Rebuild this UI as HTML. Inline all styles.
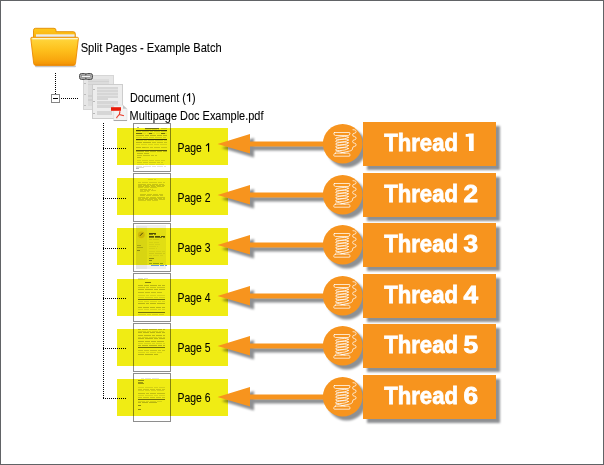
<!DOCTYPE html>
<html>
<head>
<meta charset="utf-8">
<style>
html,body{margin:0;padding:0;background:#fff;}
body{width:604px;height:465px;overflow:hidden;position:relative;}
svg{position:absolute;left:0;top:0;display:block;}
.t{font-family:"Liberation Sans",sans-serif;font-size:12px;fill:#000;stroke:#000;stroke-width:0.08px;}
.th{font-family:"Liberation Sans",sans-serif;font-weight:bold;font-size:24px;fill:#fff;}
</style>
</head>
<body>
<svg width="604" height="465" viewBox="0 0 604 465">
<defs>
  <linearGradient id="fg" x1="0" y1="0" x2="0" y2="1">
    <stop offset="0" stop-color="#ffe070"/>
    <stop offset="0.12" stop-color="#ffd236"/>
    <stop offset="0.45" stop-color="#fec01c"/>
    <stop offset="0.8" stop-color="#f9a70e"/>
    <stop offset="0.95" stop-color="#f39606"/>
    <stop offset="1" stop-color="#ea8200"/>
  </linearGradient>
  <linearGradient id="fb" x1="0" y1="0" x2="0" y2="1">
    <stop offset="0" stop-color="#ffc81a"/>
    <stop offset="1" stop-color="#f8ac10"/>
  </linearGradient>
  <filter id="bl" x="-20%" y="-100%" width="140%" height="300%"><feGaussianBlur stdDeviation="0.7"/></filter>
  <filter id="sh" x="-20%" y="-20%" width="150%" height="160%" color-interpolation-filters="sRGB">
    <feGaussianBlur in="SourceAlpha" stdDeviation="1.1" result="blur"/>
    <feOffset in="blur" dx="3.5" dy="3.7" result="off"/>
    <feFlood flood-color="#12161e" flood-opacity="0.48"/>
    <feComposite in2="off" operator="in"/>
    <feMerge><feMergeNode/><feMergeNode in="SourceGraphic"/></feMerge>
  </filter>
  <g id="spool" fill="none" stroke="#fff" stroke-width="0.75" stroke-linecap="round" stroke-linejoin="round">
    <path d="M334.6,132.5 H349 Q350.5,132.5 349.9,134 Q349.4,135.5 348.2,135.5 H335.6 Q334.3,135.5 333.9,134 Q333.4,132.5 334.6,132.5 Z"/>
    <path d="M335.6,153.1 H348.2 Q349.4,153.1 349.9,154.6 Q350.5,156.2 349,156.2 H334.6 Q333.4,156.2 333.9,154.6 Q334.3,153.1 335.6,153.1 Z"/>
    <ellipse cx="342" cy="137.9" rx="6.5" ry="1.3" transform="rotate(-6 342 137.9)"/>
    <ellipse cx="342" cy="140.7" rx="6.5" ry="1.3" transform="rotate(-6 342 140.7)"/>
    <ellipse cx="342" cy="143.5" rx="6.5" ry="1.3" transform="rotate(-6 342 143.5)"/>
    <ellipse cx="342" cy="146.3" rx="6.5" ry="1.3" transform="rotate(-6 342 146.3)"/>
    <ellipse cx="342" cy="149.1" rx="6.5" ry="1.3" transform="rotate(-6 342 149.1)"/>
    <path d="M336,151 L345,153"/>
    <path d="M353.0,129.7 C355.2,129.8 356.1,130.2 356.1,131.6 C356.1,134.2 352.6,132.3 352.6,134.9 C352.6,137.5 356.1,135.6 356.1,138.2 C356.1,140.8 352.6,138.9 352.6,141.5 C352.6,144.1 356.1,142.2 356.1,144.8 C356.1,147.4 352.6,145.5 352.6,148.1 C352.6,150 351.5,150.6 349.5,151.1 L341,152.8"/>
  </g>
</defs>
<rect x="0.5" y="0.5" width="603" height="464" fill="none" stroke="#616366" stroke-width="1"/>
<g>
  <rect x="35" y="65.2" width="41" height="2" rx="1" fill="#000" opacity="0.22" filter="url(#bl)"/>
  <path d="M35.5,28.3 h18.5 a2,2 0 0 1 2,2 v1.4 h17.3 a2,2 0 0 1 2,2 v5.8 h-41.8 v-9.2 a2,2 0 0 1 2,-2 z" fill="url(#fb)" stroke="#e28c00" stroke-width="0.9"/>
  <rect x="36" y="34.6" width="38.5" height="2.4" fill="#e2e2e2"/>
  <rect x="36" y="34.6" width="38.5" height="0.8" fill="#fafafa"/>
  <path d="M31.9,37.3 L77.3,37.3 A1.1,1.1 0 0 1 78.4,38.5 L75.5,63.5 A2.2,2.2 0 0 1 73.3,65.4 L35.9,65.4 A2.2,2.2 0 0 1 33.7,63.5 L30.8,38.5 A1.1,1.1 0 0 1 31.9,37.3 Z" fill="url(#fg)" stroke="#ec8a00" stroke-width="0.9"/>
  <path d="M32.4,38.6 L77.8,38.6" stroke="#fff8d0" stroke-width="1.3" opacity="0.95"/>
</g>
<text class="t" x="80.7" y="51.7" textLength="141" lengthAdjust="spacingAndGlyphs">Split Pages - Example Batch</text>
<g shape-rendering="crispEdges">
  <line x1="55.5" y1="73" x2="55.5" y2="94" stroke="#000" stroke-dasharray="1 1"/>
  <line x1="61" y1="98.5" x2="78" y2="98.5" stroke="#000" stroke-dasharray="1 1"/>
  <rect x="51.5" y="94.5" width="8" height="8" fill="#fff" stroke="#858585"/>
  <rect x="53" y="98" width="5" height="1" fill="#000"/>
  <line x1="103.5" y1="123" x2="103.5" y2="398" stroke="#000" stroke-dasharray="1 1"/>
</g>
<g shape-rendering="crispEdges">
  <rect x="83" y="75" width="31" height="35" fill="#d6d6d6"/>
  <rect x="84" y="76" width="29" height="33" fill="#e6e6e6"/>
  <rect x="88" y="79" width="21" height="27" fill="#dcdcdc"/>
  <rect x="88" y="81" width="21" height="1" fill="#d2d2d2"/>
  <rect x="88" y="84" width="21" height="1" fill="#d2d2d2"/>
  <rect x="88" y="95" width="21" height="2" fill="#d0d0d0"/>
  <rect x="88" y="99" width="21" height="2" fill="#d0d0d0"/>
  <rect x="84" y="83" width="2" height="1" fill="#bcbcbc"/>
  <rect x="84" y="94" width="2" height="1" fill="#bcbcbc"/>
  <rect x="84" y="105" width="2" height="1" fill="#bcbcbc"/>
  <rect x="92" y="84" width="31" height="35" fill="#cdcdcd"/>
  <rect x="93" y="85" width="29" height="33" fill="#ededed"/>
  <rect x="97" y="87" width="21" height="13" fill="#d6d6d6"/>
  <rect x="97" y="89" width="21" height="1" fill="#e2e2e2"/>
  <rect x="97" y="92" width="21" height="1" fill="#e2e2e2"/>
  <rect x="97" y="95" width="21" height="1" fill="#e2e2e2"/>
  <rect x="108" y="98" width="10" height="2" fill="#ededed"/>
  <rect x="97" y="101" width="21" height="7" fill="#d6d6d6"/>
  <rect x="97" y="104" width="21" height="1" fill="#e2e2e2"/>
  <rect x="97" y="111" width="15" height="4" fill="#d6d6d6"/>
  <rect x="93" y="89" width="2" height="1" fill="#b8b8b8"/>
  <rect x="93" y="101" width="2" height="1" fill="#b8b8b8"/>
  <rect x="93" y="113" width="2" height="1" fill="#b8b8b8"/>
</g>
<g stroke="#505050" stroke-width="1">
  <rect x="79.5" y="73.5" width="7" height="6" rx="2" fill="#a8a8a8"/>
  <rect x="85.5" y="73.5" width="7" height="6" rx="2" fill="#a8a8a8"/>
  <rect x="81.5" y="75.6" width="9" height="1.8" fill="#f2f2f2" stroke="#777" stroke-width="0.5"/>
</g>
<g>
  <path d="M113.7,105.2 h9.3 l4,3.6 v11.8 h-13.3 z" fill="#f3f3f3" stroke="#d6d6d6" stroke-width="0.5"/>
  <path d="M123,105.2 v3.6 h4 z" fill="#c4c4c4"/>
  <rect x="113.7" y="120" width="13.3" height="1" fill="#a8a8a8"/>
  <rect x="111" y="107.2" width="10" height="3.6" fill="#ea1c0a"/>
  <path d="M119.8,111.2 C120.2,113.4 119,115.2 117.4,116.6 C116.5,117.4 116.4,118 117.2,117.6 M118.8,114.3 C120.6,115.1 122.4,115.3 123.9,115.8" fill="none" stroke="#e83a28" stroke-width="1.05"/>
</g>
<text class="t" x="130" y="101.7" textLength="55.9" lengthAdjust="spacingAndGlyphs">Document (</text>
<path d="M189,93.3 h1.15 v8.4 h-1.15 z" fill="#000"/><path d="M187,95.8 L189.6,93.7" stroke="#000" stroke-width="1.1" fill="none"/>
<text class="t" x="192" y="101.7" textLength="3.6" lengthAdjust="spacingAndGlyphs">)</text>
<text class="t" x="129.5" y="119.8" textLength="134" lengthAdjust="spacingAndGlyphs" fill="#222">Multipage Doc Example.pdf</text>
<!-- row 1 -->
<g><rect x="133.5" y="123.5" width="37" height="48" fill="#fff" stroke="#8e8e8e" shape-rendering="crispEdges"/>
<rect x="137" y="127" width="2" height="1" fill="#a8a8a8"/>
<rect x="145" y="128" width="14" height="1" fill="#7c7c7c"/>
<rect x="145" y="129" width="6" height="1" fill="#e9e9e9"/>
<rect x="152" y="129" width="5" height="1" fill="#e9e9e9"/>
<rect x="158" y="129" width="1" height="1" fill="#e9e9e9"/>
<rect x="161" y="128" width="6" height="1" fill="#d3d3d3"/>
<rect x="136" y="130" width="31" height="1" fill="#434343"/>
<rect x="136" y="131" width="5" height="1" fill="#dbdbdb"/>
<rect x="142" y="131" width="7" height="1" fill="#dbdbdb"/>
<rect x="150" y="131" width="3" height="1" fill="#dbdbdb"/>
<rect x="154" y="131" width="6" height="1" fill="#dbdbdb"/>
<rect x="161" y="131" width="6" height="1" fill="#dbdbdb"/>
<rect x="136" y="133" width="3" height="1" fill="#e9e9e9"/>
<rect x="140" y="133" width="6" height="1" fill="#e9e9e9"/>
<rect x="147" y="133" width="8" height="1" fill="#e9e9e9"/>
<rect x="156" y="133" width="4" height="1" fill="#e9e9e9"/>
<rect x="161" y="133" width="6" height="1" fill="#e9e9e9"/>
<rect x="136" y="133" width="6" height="1" fill="#7c7c7c"/>
<rect x="149" y="133" width="3" height="1" fill="#7c7c7c"/>
<rect x="161" y="133" width="4" height="1" fill="#7c7c7c"/>
<rect x="136" y="135" width="8" height="1" fill="#c4c4c4"/>
<rect x="145" y="135" width="4" height="1" fill="#c4c4c4"/>
<rect x="150" y="135" width="6" height="1" fill="#c4c4c4"/>
<rect x="157" y="135" width="5" height="1" fill="#c4c4c4"/>
<rect x="163" y="135" width="4" height="1" fill="#c4c4c4"/>
<rect x="136" y="137" width="6" height="1" fill="#e0e0e0"/>
<rect x="143" y="137" width="5" height="1" fill="#e0e0e0"/>
<rect x="149" y="137" width="5" height="1" fill="#e0e0e0"/>
<rect x="155" y="137" width="7" height="1" fill="#e0e0e0"/>
<rect x="163" y="137" width="3" height="1" fill="#e0e0e0"/>
<rect x="136" y="139" width="31" height="1" fill="#434343"/>
<rect x="136" y="140" width="7" height="1" fill="#e2e2e2"/>
<rect x="144" y="140" width="3" height="1" fill="#e2e2e2"/>
<rect x="148" y="140" width="6" height="1" fill="#e2e2e2"/>
<rect x="155" y="140" width="8" height="1" fill="#e2e2e2"/>
<rect x="164" y="140" width="3" height="1" fill="#e2e2e2"/>
<rect x="136" y="142" width="6" height="1" fill="#d0d0d0"/>
<rect x="143" y="142" width="8" height="1" fill="#d0d0d0"/>
<rect x="152" y="142" width="4" height="1" fill="#d0d0d0"/>
<rect x="157" y="142" width="6" height="1" fill="#d0d0d0"/>
<rect x="164" y="142" width="3" height="1" fill="#d0d0d0"/>
<rect x="136" y="142" width="6" height="1" fill="#c5c5c5"/>
<rect x="143" y="142" width="8" height="1" fill="#c5c5c5"/>
<rect x="136" y="144" width="4" height="1" fill="#e2e2e2"/>
<rect x="141" y="144" width="6" height="1" fill="#e2e2e2"/>
<rect x="148" y="144" width="5" height="1" fill="#e2e2e2"/>
<rect x="154" y="144" width="5" height="1" fill="#e2e2e2"/>
<rect x="160" y="144" width="7" height="1" fill="#e2e2e2"/>
<rect x="136" y="147" width="5" height="1" fill="#d4d4d4"/>
<rect x="142" y="147" width="7" height="1" fill="#d4d4d4"/>
<rect x="150" y="147" width="3" height="1" fill="#d4d4d4"/>
<rect x="154" y="147" width="6" height="1" fill="#d4d4d4"/>
<rect x="161" y="147" width="6" height="1" fill="#d4d4d4"/>
<rect x="136" y="147" width="5" height="1" fill="#c5c5c5"/>
<rect x="142" y="147" width="3" height="1" fill="#c5c5c5"/>
<rect x="136" y="150" width="31" height="1" fill="#606060"/>
<rect x="136" y="151" width="8" height="1" fill="#c8c8c8"/>
<rect x="145" y="151" width="4" height="1" fill="#c8c8c8"/>
<rect x="150" y="151" width="6" height="1" fill="#c8c8c8"/>
<rect x="157" y="151" width="5" height="1" fill="#c8c8c8"/>
<rect x="163" y="151" width="4" height="1" fill="#c8c8c8"/>
<rect x="137" y="153" width="6" height="1" fill="#c8c8c8"/>
<rect x="144" y="153" width="5" height="1" fill="#c8c8c8"/>
<rect x="137" y="155" width="5" height="1" fill="#d0d0d0"/>
<rect x="143" y="155" width="7" height="1" fill="#d0d0d0"/>
<rect x="151" y="155" width="3" height="1" fill="#d0d0d0"/>
<rect x="155" y="155" width="2" height="1" fill="#d0d0d0"/>
<rect x="137" y="157" width="4" height="1" fill="#c5c5c5"/>
<rect x="137" y="160" width="4" height="1" fill="#e2e2e2"/>
<rect x="142" y="160" width="6" height="1" fill="#e2e2e2"/>
<rect x="149" y="160" width="5" height="1" fill="#e2e2e2"/>
<rect x="155" y="160" width="5" height="1" fill="#e2e2e2"/>
<rect x="161" y="160" width="4" height="1" fill="#e2e2e2"/>
<rect x="137" y="162" width="5" height="1" fill="#dbdbdb"/>
<rect x="143" y="162" width="5" height="1" fill="#dbdbdb"/>
<rect x="149" y="162" width="7" height="1" fill="#dbdbdb"/>
<rect x="157" y="162" width="3" height="1" fill="#dbdbdb"/>
<rect x="161" y="162" width="2" height="1" fill="#dbdbdb"/>
<rect x="137" y="164" width="7" height="1" fill="#e9e9e9"/>
<rect x="145" y="164" width="3" height="1" fill="#e9e9e9"/>
<rect x="149" y="164" width="6" height="1" fill="#e9e9e9"/>
<rect x="156" y="164" width="8" height="1" fill="#e9e9e9"/>
<rect x="136" y="166" width="6" height="1" fill="#e2e2e2"/>
<rect x="143" y="166" width="8" height="1" fill="#e2e2e2"/>
<rect x="152" y="166" width="4" height="1" fill="#e2e2e2"/>
<rect x="157" y="166" width="6" height="1" fill="#e2e2e2"/>
<rect x="164" y="166" width="2" height="1" fill="#e2e2e2"/>
<rect x="136" y="167" width="8" height="1" fill="#dbdbdb"/>
<rect x="136" y="168" width="3" height="1" fill="#b6b6b6"/></g>
<rect x="117" y="128" width="111" height="37" fill="#f0ec14" style="mix-blend-mode:multiply" shape-rendering="crispEdges"/>
<line x1="103" y1="148.5" x2="126" y2="148.5" stroke="#000" stroke-dasharray="1 1" shape-rendering="crispEdges"/>
<text class="t" x="177.5" y="151.7" textLength="24.3" lengthAdjust="spacingAndGlyphs">Page</text>
<path d="M208,143.2 h1.15 v8.5 h-1.15 z" fill="#000"/><path d="M206,145.7 L208.6,143.6" stroke="#000" stroke-width="1.1" fill="none"/>
<g filter="url(#sh)">
<path d="M217.5,144 L250,134 L250,141.6 L325,141.6 L325,146.4 L250,146.4 L250,153.5 Z" fill="#f7941e"/>
<circle cx="342.7" cy="143.7" r="19.8" fill="#f7941e"/>
<rect x="363" y="122" width="133" height="44" fill="#f7941e"/>
</g>
<use href="#spool" transform="translate(0,0)"/>
<text class="th" x="384.3" y="151.1" textLength="73.6" lengthAdjust="spacingAndGlyphs" stroke="#fff" stroke-width="0.8">Thread</text>
<path d="M469,133.4 H473.7 V150.9 H469 V136.7 H465.7 V133.9 Q467.6,133.9 469,133.4 Z" fill="#fff"/>
<!-- row 2 -->
<g><rect x="133.5" y="173.5" width="37" height="48" fill="#fff" stroke="#8e8e8e" shape-rendering="crispEdges"/>
<rect x="148" y="179" width="5" height="1" fill="#e2e2e2"/>
<rect x="154" y="179" width="2" height="1" fill="#e2e2e2"/>
<rect x="138" y="182" width="3" height="1" fill="#dbdbdb"/>
<rect x="142" y="182" width="6" height="1" fill="#dbdbdb"/>
<rect x="149" y="182" width="8" height="1" fill="#dbdbdb"/>
<rect x="158" y="182" width="4" height="1" fill="#dbdbdb"/>
<rect x="163" y="182" width="2" height="1" fill="#dbdbdb"/>
<rect x="138" y="184" width="8" height="1" fill="#d4d4d4"/>
<rect x="147" y="184" width="4" height="1" fill="#d4d4d4"/>
<rect x="152" y="184" width="6" height="1" fill="#d4d4d4"/>
<rect x="159" y="184" width="5" height="1" fill="#d4d4d4"/>
<rect x="138" y="185" width="4" height="1" fill="#d4d4d4"/>
<rect x="143" y="185" width="6" height="1" fill="#d4d4d4"/>
<rect x="150" y="185" width="5" height="1" fill="#d4d4d4"/>
<rect x="156" y="185" width="5" height="1" fill="#d4d4d4"/>
<rect x="162" y="185" width="3" height="1" fill="#d4d4d4"/>
<rect x="138" y="186" width="6" height="1" fill="#d4d4d4"/>
<rect x="145" y="186" width="5" height="1" fill="#d4d4d4"/>
<rect x="151" y="186" width="5" height="1" fill="#d4d4d4"/>
<rect x="157" y="186" width="7" height="1" fill="#d4d4d4"/>
<rect x="138" y="187" width="5" height="1" fill="#dbdbdb"/>
<rect x="144" y="187" width="5" height="1" fill="#dbdbdb"/>
<rect x="150" y="187" width="7" height="1" fill="#dbdbdb"/>
<rect x="140" y="189" width="7" height="1" fill="#d4d4d4"/>
<rect x="148" y="189" width="3" height="1" fill="#d4d4d4"/>
<rect x="152" y="189" width="1" height="1" fill="#d4d4d4"/>
<rect x="140" y="190" width="3" height="1" fill="#dbdbdb"/>
<rect x="144" y="190" width="6" height="1" fill="#dbdbdb"/>
<rect x="151" y="190" width="5" height="1" fill="#dbdbdb"/>
<rect x="140" y="191" width="6" height="1" fill="#dbdbdb"/>
<rect x="147" y="191" width="2" height="1" fill="#dbdbdb"/>
<rect x="140" y="194" width="6" height="1" fill="#d4d4d4"/>
<rect x="147" y="194" width="5" height="1" fill="#d4d4d4"/>
<rect x="153" y="194" width="5" height="1" fill="#d4d4d4"/>
<rect x="159" y="194" width="4" height="1" fill="#d4d4d4"/>
<rect x="140" y="195" width="5" height="1" fill="#d4d4d4"/>
<rect x="146" y="195" width="5" height="1" fill="#d4d4d4"/>
<rect x="152" y="195" width="7" height="1" fill="#d4d4d4"/>
<rect x="160" y="195" width="3" height="1" fill="#d4d4d4"/>
<rect x="138" y="197" width="7" height="1" fill="#d4d4d4"/>
<rect x="146" y="197" width="3" height="1" fill="#d4d4d4"/>
<rect x="150" y="197" width="6" height="1" fill="#d4d4d4"/>
<rect x="157" y="197" width="8" height="1" fill="#d4d4d4"/>
<rect x="138" y="198" width="3" height="1" fill="#d4d4d4"/>
<rect x="142" y="198" width="6" height="1" fill="#d4d4d4"/>
<rect x="149" y="198" width="8" height="1" fill="#d4d4d4"/>
<rect x="158" y="198" width="4" height="1" fill="#d4d4d4"/>
<rect x="163" y="198" width="2" height="1" fill="#d4d4d4"/>
<rect x="138" y="199" width="6" height="1" fill="#d4d4d4"/>
<rect x="145" y="199" width="8" height="1" fill="#d4d4d4"/>
<rect x="154" y="199" width="4" height="1" fill="#d4d4d4"/>
<rect x="159" y="199" width="6" height="1" fill="#d4d4d4"/>
<rect x="138" y="200" width="8" height="1" fill="#dbdbdb"/>
<rect x="147" y="200" width="4" height="1" fill="#dbdbdb"/>
<rect x="152" y="200" width="6" height="1" fill="#dbdbdb"/></g>
<rect x="117" y="178" width="111" height="37" fill="#f0ec14" style="mix-blend-mode:multiply" shape-rendering="crispEdges"/>
<line x1="103" y1="198.5" x2="126" y2="198.5" stroke="#000" stroke-dasharray="1 1" shape-rendering="crispEdges"/>
<text class="t" x="177.5" y="201.7" textLength="33" lengthAdjust="spacingAndGlyphs">Page 2</text>
<g filter="url(#sh)">
<path d="M217.5,195 L250,185 L250,192.6 L325,192.6 L325,197.4 L250,197.4 L250,204.5 Z" fill="#f7941e"/>
<circle cx="342.7" cy="194.7" r="19.8" fill="#f7941e"/>
<rect x="363" y="173" width="133" height="44" fill="#f7941e"/>
</g>
<use href="#spool" transform="translate(0,51)"/>
<text class="th" x="384.3" y="202.1" textLength="73.6" lengthAdjust="spacingAndGlyphs" stroke="#fff" stroke-width="0.8">Thread</text>
<text class="th" x="463.5" y="202.1" textLength="14.6" lengthAdjust="spacingAndGlyphs" stroke="#fff" stroke-width="0.8">2</text>
<!-- row 3 -->
<g><rect x="133.5" y="223.5" width="37" height="48" fill="#fff" stroke="#8e8e8e" shape-rendering="crispEdges"/>
<rect x="136" y="225" width="30" height="44" fill="#f0f0f0"/>
<rect x="136" y="226" width="11" height="43" fill="#e6e6e6"/>
<circle cx="141.3" cy="234.8" r="5" fill="#ece4a0"/>
<circle cx="141.3" cy="234.8" r="3.4" fill="#dcc860"/>
<path d="M140,235.8 l2.8,-3" stroke="#444" stroke-width="0.9"/>
<rect x="149" y="233" width="7" height="1" fill="#555"/>
<rect x="149" y="234" width="4" height="1" fill="#888"/>
<rect x="154" y="234" width="2" height="1" fill="#888"/>
<rect x="149" y="236" width="5" height="1" fill="#555"/>
<rect x="155" y="236" width="5" height="1" fill="#555"/>
<rect x="161" y="236" width="4" height="1" fill="#555"/>
<rect x="149" y="237" width="5" height="1" fill="#888"/>
<rect x="155" y="237" width="7" height="1" fill="#888"/>
<rect x="163" y="237" width="2" height="1" fill="#888"/>
<rect x="149" y="239" width="3" height="1" fill="#dbdbdb"/>
<rect x="153" y="239" width="6" height="1" fill="#dbdbdb"/>
<rect x="149" y="242" width="4" height="1" fill="#e2e2e2"/>
<rect x="154" y="242" width="5" height="1" fill="#e2e2e2"/>
<rect x="149" y="244" width="5" height="1" fill="#e2e2e2"/>
<rect x="155" y="244" width="5" height="1" fill="#e2e2e2"/>
<rect x="149" y="246" width="7" height="1" fill="#e2e2e2"/>
<rect x="157" y="246" width="1" height="1" fill="#e2e2e2"/>
<rect x="149" y="248" width="6" height="1" fill="#e2e2e2"/>
<rect x="156" y="248" width="1" height="1" fill="#e2e2e2"/>
<rect x="149" y="251" width="6" height="1" fill="#e2e2e2"/>
<rect x="156" y="251" width="5" height="1" fill="#e2e2e2"/>
<rect x="162" y="251" width="3" height="1" fill="#e2e2e2"/>
<rect x="149" y="253" width="5" height="1" fill="#dbdbdb"/>
<rect x="155" y="253" width="7" height="1" fill="#dbdbdb"/>
<rect x="163" y="253" width="2" height="1" fill="#dbdbdb"/>
<rect x="149" y="255" width="3" height="1" fill="#e2e2e2"/>
<rect x="153" y="255" width="6" height="1" fill="#e2e2e2"/>
<rect x="160" y="255" width="3" height="1" fill="#e2e2e2"/>
<rect x="149" y="258" width="5" height="1" fill="#999999"/>
<rect x="149" y="260" width="3" height="1" fill="#999999"/>
<rect x="149" y="263" width="3" height="1" fill="#9ab050"/>
<rect x="153" y="263" width="6" height="1" fill="#9ab050"/>
<rect x="160" y="263" width="3" height="1" fill="#9ab050"/>
<rect x="151" y="265" width="8" height="1" fill="#6a9ad8"/>
<rect x="160" y="265" width="4" height="1" fill="#6a9ad8"/>
<rect x="165" y="265" width="2" height="1" fill="#6a9ad8"/>
<rect x="137" y="245" width="4" height="1" fill="#b6b6b6"/>
<rect x="137" y="247" width="6" height="1" fill="#b6b6b6"/>
<rect x="137" y="250" width="3" height="1" fill="#999999"/></g>
<rect x="117" y="228" width="111" height="37" fill="#f0ec14" style="mix-blend-mode:multiply" shape-rendering="crispEdges"/>
<line x1="103" y1="248.5" x2="126" y2="248.5" stroke="#000" stroke-dasharray="1 1" shape-rendering="crispEdges"/>
<text class="t" x="177.5" y="251.7" textLength="33" lengthAdjust="spacingAndGlyphs">Page 3</text>
<g filter="url(#sh)">
<path d="M217.5,245 L250,235 L250,242.6 L325,242.6 L325,247.4 L250,247.4 L250,254.5 Z" fill="#f7941e"/>
<circle cx="342.7" cy="244.7" r="19.8" fill="#f7941e"/>
<rect x="363" y="223" width="133" height="44" fill="#f7941e"/>
</g>
<use href="#spool" transform="translate(0,101)"/>
<text class="th" x="384.3" y="252.1" textLength="73.6" lengthAdjust="spacingAndGlyphs" stroke="#fff" stroke-width="0.8">Thread</text>
<text class="th" x="463.5" y="252.1" textLength="14.6" lengthAdjust="spacingAndGlyphs" stroke="#fff" stroke-width="0.8">3</text>
<!-- row 4 -->
<g><rect x="133.5" y="273.5" width="37" height="48" fill="#fff" stroke="#8e8e8e" shape-rendering="crispEdges"/>
<rect x="138" y="278" width="5" height="1" fill="#dbdbdb"/>
<rect x="144" y="278" width="4" height="1" fill="#dbdbdb"/>
<rect x="138" y="279" width="7" height="1" fill="#e2e2e2"/>
<rect x="145" y="282" width="6" height="1" fill="#8b8b8b"/>
<rect x="138" y="285" width="5" height="1" fill="#c5c5c5"/>
<rect x="144" y="285" width="5" height="1" fill="#c5c5c5"/>
<rect x="150" y="285" width="7" height="1" fill="#c5c5c5"/>
<rect x="158" y="285" width="3" height="1" fill="#c5c5c5"/>
<rect x="162" y="285" width="3" height="1" fill="#c5c5c5"/>
<rect x="138" y="287" width="7" height="1" fill="#d4d4d4"/>
<rect x="146" y="287" width="3" height="1" fill="#d4d4d4"/>
<rect x="150" y="287" width="6" height="1" fill="#d4d4d4"/>
<rect x="157" y="287" width="8" height="1" fill="#d4d4d4"/>
<rect x="138" y="289" width="6" height="1" fill="#c5c5c5"/>
<rect x="145" y="289" width="8" height="1" fill="#c5c5c5"/>
<rect x="154" y="289" width="4" height="1" fill="#c5c5c5"/>
<rect x="159" y="289" width="6" height="1" fill="#c5c5c5"/>
<rect x="138" y="292" width="6" height="1" fill="#cdcdcd"/>
<rect x="145" y="292" width="5" height="1" fill="#cdcdcd"/>
<rect x="151" y="292" width="5" height="1" fill="#cdcdcd"/>
<rect x="157" y="292" width="5" height="1" fill="#cdcdcd"/>
<rect x="138" y="295" width="7" height="1" fill="#e2e2e2"/>
<rect x="146" y="295" width="3" height="1" fill="#e2e2e2"/>
<rect x="150" y="295" width="6" height="1" fill="#e2e2e2"/>
<rect x="157" y="295" width="8" height="1" fill="#e2e2e2"/>
<rect x="138" y="297" width="6" height="1" fill="#e2e2e2"/>
<rect x="145" y="297" width="8" height="1" fill="#e2e2e2"/>
<rect x="154" y="297" width="4" height="1" fill="#e2e2e2"/>
<rect x="159" y="297" width="6" height="1" fill="#e2e2e2"/>
<rect x="138" y="299" width="27" height="1" fill="#7c7c7c"/>
<rect x="138" y="301" width="5" height="1" fill="#e2e2e2"/>
<rect x="144" y="301" width="5" height="1" fill="#e2e2e2"/>
<rect x="150" y="301" width="7" height="1" fill="#e2e2e2"/>
<rect x="158" y="301" width="3" height="1" fill="#e2e2e2"/>
<rect x="162" y="301" width="3" height="1" fill="#e2e2e2"/>
<rect x="138" y="303" width="7" height="1" fill="#c4c4c4"/>
<rect x="146" y="303" width="3" height="1" fill="#c4c4c4"/>
<rect x="150" y="303" width="6" height="1" fill="#c4c4c4"/>
<rect x="157" y="303" width="8" height="1" fill="#c4c4c4"/>
<rect x="138" y="307" width="4" height="1" fill="#c5c5c5"/>
<rect x="143" y="307" width="6" height="1" fill="#c5c5c5"/>
<rect x="150" y="307" width="5" height="1" fill="#c5c5c5"/>
<rect x="156" y="307" width="5" height="1" fill="#c5c5c5"/>
<rect x="162" y="307" width="3" height="1" fill="#c5c5c5"/>
<rect x="138" y="309" width="5" height="1" fill="#e2e2e2"/>
<rect x="144" y="309" width="5" height="1" fill="#e2e2e2"/>
<rect x="150" y="309" width="7" height="1" fill="#e2e2e2"/>
<rect x="158" y="309" width="3" height="1" fill="#e2e2e2"/>
<rect x="162" y="309" width="3" height="1" fill="#e2e2e2"/>
<rect x="138" y="312" width="27" height="1" fill="#7c7c7c"/>
<rect x="138" y="314" width="8" height="1" fill="#e2e2e2"/>
<rect x="147" y="314" width="4" height="1" fill="#e2e2e2"/>
<rect x="152" y="314" width="6" height="1" fill="#e2e2e2"/>
<rect x="159" y="314" width="5" height="1" fill="#e2e2e2"/></g>
<rect x="117" y="279" width="111" height="37" fill="#f0ec14" style="mix-blend-mode:multiply" shape-rendering="crispEdges"/>
<line x1="103" y1="298.5" x2="126" y2="298.5" stroke="#000" stroke-dasharray="1 1" shape-rendering="crispEdges"/>
<text class="t" x="177.5" y="301.7" textLength="33" lengthAdjust="spacingAndGlyphs">Page 4</text>
<g filter="url(#sh)">
<path d="M217.5,296 L250,286 L250,293.6 L325,293.6 L325,298.4 L250,298.4 L250,305.5 Z" fill="#f7941e"/>
<circle cx="342.7" cy="295.7" r="19.8" fill="#f7941e"/>
<rect x="363" y="274" width="133" height="44" fill="#f7941e"/>
</g>
<use href="#spool" transform="translate(0,152)"/>
<text class="th" x="384.3" y="303.1" textLength="73.6" lengthAdjust="spacingAndGlyphs" stroke="#fff" stroke-width="0.8">Thread</text>
<text class="th" x="463.5" y="303.1" textLength="14.6" lengthAdjust="spacingAndGlyphs" stroke="#fff" stroke-width="0.8">4</text>
<!-- row 5 -->
<g><rect x="133.5" y="323.5" width="37" height="48" fill="#fff" stroke="#8e8e8e" shape-rendering="crispEdges"/>
<rect x="138" y="329" width="3" height="1" fill="#c5c5c5"/>
<rect x="142" y="329" width="6" height="1" fill="#c5c5c5"/>
<rect x="149" y="329" width="8" height="1" fill="#c5c5c5"/>
<rect x="158" y="329" width="4" height="1" fill="#c5c5c5"/>
<rect x="163" y="329" width="2" height="1" fill="#c5c5c5"/>
<rect x="138" y="331" width="8" height="1" fill="#e2e2e2"/>
<rect x="147" y="331" width="4" height="1" fill="#e2e2e2"/>
<rect x="152" y="331" width="6" height="1" fill="#e2e2e2"/>
<rect x="159" y="331" width="5" height="1" fill="#e2e2e2"/>
<rect x="138" y="332" width="4" height="1" fill="#c4c4c4"/>
<rect x="143" y="332" width="6" height="1" fill="#c4c4c4"/>
<rect x="150" y="332" width="5" height="1" fill="#c4c4c4"/>
<rect x="156" y="332" width="5" height="1" fill="#c4c4c4"/>
<rect x="162" y="332" width="3" height="1" fill="#c4c4c4"/>
<rect x="138" y="335" width="5" height="1" fill="#c5c5c5"/>
<rect x="144" y="335" width="7" height="1" fill="#c5c5c5"/>
<rect x="152" y="335" width="3" height="1" fill="#c5c5c5"/>
<rect x="156" y="335" width="6" height="1" fill="#c5c5c5"/>
<rect x="163" y="335" width="2" height="1" fill="#c5c5c5"/>
<rect x="138" y="337" width="3" height="1" fill="#e2e2e2"/>
<rect x="142" y="337" width="6" height="1" fill="#e2e2e2"/>
<rect x="149" y="337" width="8" height="1" fill="#e2e2e2"/>
<rect x="158" y="337" width="4" height="1" fill="#e2e2e2"/>
<rect x="163" y="337" width="2" height="1" fill="#e2e2e2"/>
<rect x="138" y="338" width="6" height="1" fill="#c4c4c4"/>
<rect x="145" y="338" width="8" height="1" fill="#c4c4c4"/>
<rect x="154" y="338" width="4" height="1" fill="#c4c4c4"/>
<rect x="159" y="338" width="6" height="1" fill="#c4c4c4"/>
<rect x="138" y="341" width="6" height="1" fill="#c5c5c5"/>
<rect x="145" y="341" width="5" height="1" fill="#c5c5c5"/>
<rect x="151" y="341" width="5" height="1" fill="#c5c5c5"/>
<rect x="157" y="341" width="7" height="1" fill="#c5c5c5"/>
<rect x="138" y="343" width="5" height="1" fill="#e2e2e2"/>
<rect x="144" y="343" width="7" height="1" fill="#e2e2e2"/>
<rect x="152" y="343" width="3" height="1" fill="#e2e2e2"/>
<rect x="156" y="343" width="6" height="1" fill="#e2e2e2"/>
<rect x="163" y="343" width="2" height="1" fill="#e2e2e2"/>
<rect x="138" y="345" width="3" height="1" fill="#c4c4c4"/>
<rect x="142" y="345" width="6" height="1" fill="#c4c4c4"/>
<rect x="149" y="345" width="8" height="1" fill="#c4c4c4"/>
<rect x="158" y="345" width="4" height="1" fill="#c4c4c4"/>
<rect x="163" y="345" width="2" height="1" fill="#c4c4c4"/>
<rect x="138" y="347" width="27" height="1" fill="#7c7c7c"/>
<rect x="138" y="350" width="5" height="1" fill="#d4d4d4"/>
<rect x="144" y="350" width="5" height="1" fill="#d4d4d4"/>
<rect x="150" y="350" width="7" height="1" fill="#d4d4d4"/>
<rect x="158" y="350" width="3" height="1" fill="#d4d4d4"/>
<rect x="162" y="350" width="3" height="1" fill="#d4d4d4"/>
<rect x="138" y="352" width="7" height="1" fill="#e2e2e2"/>
<rect x="146" y="352" width="3" height="1" fill="#e2e2e2"/>
<rect x="150" y="352" width="6" height="1" fill="#e2e2e2"/>
<rect x="157" y="352" width="5" height="1" fill="#e2e2e2"/>
<rect x="138" y="354" width="6" height="1" fill="#c4c4c4"/>
<rect x="145" y="354" width="8" height="1" fill="#c4c4c4"/>
<rect x="154" y="354" width="4" height="1" fill="#c4c4c4"/></g>
<rect x="117" y="329" width="111" height="37" fill="#f0ec14" style="mix-blend-mode:multiply" shape-rendering="crispEdges"/>
<line x1="103" y1="348.5" x2="126" y2="348.5" stroke="#000" stroke-dasharray="1 1" shape-rendering="crispEdges"/>
<text class="t" x="177.5" y="351.7" textLength="33" lengthAdjust="spacingAndGlyphs">Page 5</text>
<g filter="url(#sh)">
<path d="M217.5,346 L250,336 L250,343.6 L325,343.6 L325,348.4 L250,348.4 L250,355.5 Z" fill="#f7941e"/>
<circle cx="342.7" cy="345.7" r="19.8" fill="#f7941e"/>
<rect x="363" y="324" width="133" height="44" fill="#f7941e"/>
</g>
<use href="#spool" transform="translate(0,202)"/>
<text class="th" x="384.3" y="353.1" textLength="73.6" lengthAdjust="spacingAndGlyphs" stroke="#fff" stroke-width="0.8">Thread</text>
<text class="th" x="463.5" y="353.1" textLength="14.6" lengthAdjust="spacingAndGlyphs" stroke="#fff" stroke-width="0.8">5</text>
<!-- row 6 -->
<g><rect x="133.5" y="373.5" width="37" height="48" fill="#fff" stroke="#8e8e8e" shape-rendering="crispEdges"/>
<rect x="141" y="378" width="3" height="1" fill="#e2e2e2"/>
<rect x="145" y="378" width="6" height="1" fill="#e2e2e2"/>
<rect x="152" y="378" width="7" height="1" fill="#e2e2e2"/>
<rect x="138" y="380" width="6" height="1" fill="#999999"/>
<rect x="138" y="382" width="5" height="1" fill="#a8a8a8"/>
<rect x="138" y="383" width="6" height="1" fill="#a8a8a8"/>
<rect x="138" y="387" width="6" height="1" fill="#e2e2e2"/>
<rect x="145" y="387" width="8" height="1" fill="#e2e2e2"/>
<rect x="154" y="387" width="4" height="1" fill="#e2e2e2"/>
<rect x="159" y="387" width="6" height="1" fill="#e2e2e2"/>
<rect x="138" y="389" width="4" height="1" fill="#d4d4d4"/>
<rect x="143" y="389" width="6" height="1" fill="#d4d4d4"/>
<rect x="150" y="389" width="5" height="1" fill="#d4d4d4"/>
<rect x="156" y="389" width="5" height="1" fill="#d4d4d4"/>
<rect x="162" y="389" width="3" height="1" fill="#d4d4d4"/>
<rect x="138" y="390" width="6" height="1" fill="#e2e2e2"/>
<rect x="145" y="390" width="5" height="1" fill="#e2e2e2"/>
<rect x="151" y="390" width="5" height="1" fill="#e2e2e2"/>
<rect x="157" y="390" width="7" height="1" fill="#e2e2e2"/>
<rect x="138" y="393" width="7" height="1" fill="#cdcdcd"/>
<rect x="146" y="393" width="3" height="1" fill="#cdcdcd"/>
<rect x="150" y="393" width="6" height="1" fill="#cdcdcd"/>
<rect x="157" y="393" width="8" height="1" fill="#cdcdcd"/>
<rect x="138" y="395" width="6" height="1" fill="#e2e2e2"/>
<rect x="145" y="395" width="8" height="1" fill="#e2e2e2"/>
<rect x="154" y="395" width="4" height="1" fill="#e2e2e2"/>
<rect x="159" y="395" width="6" height="1" fill="#e2e2e2"/>
<rect x="138" y="397" width="4" height="1" fill="#d4d4d4"/>
<rect x="143" y="397" width="6" height="1" fill="#d4d4d4"/>
<rect x="150" y="397" width="5" height="1" fill="#d4d4d4"/>
<rect x="156" y="397" width="5" height="1" fill="#d4d4d4"/>
<rect x="162" y="397" width="3" height="1" fill="#d4d4d4"/>
<rect x="138" y="399" width="27" height="1" fill="#7c7c7c"/>
<rect x="138" y="401" width="7" height="1" fill="#e2e2e2"/>
<rect x="146" y="401" width="3" height="1" fill="#e2e2e2"/>
<rect x="150" y="401" width="6" height="1" fill="#e2e2e2"/>
<rect x="157" y="401" width="5" height="1" fill="#e2e2e2"/>
<rect x="138" y="402" width="3" height="1" fill="#c4c4c4"/>
<rect x="142" y="402" width="6" height="1" fill="#c4c4c4"/>
<rect x="149" y="402" width="8" height="1" fill="#c4c4c4"/>
<rect x="138" y="405" width="3" height="1" fill="#999999"/>
<rect x="138" y="409" width="3" height="1" fill="#999999"/></g>
<rect x="117" y="379" width="111" height="37" fill="#f0ec14" style="mix-blend-mode:multiply" shape-rendering="crispEdges"/>
<line x1="103" y1="398.5" x2="126" y2="398.5" stroke="#000" stroke-dasharray="1 1" shape-rendering="crispEdges"/>
<text class="t" x="177.5" y="401.7" textLength="33" lengthAdjust="spacingAndGlyphs">Page 6</text>
<g filter="url(#sh)">
<path d="M217.5,397 L250,387 L250,394.6 L325,394.6 L325,399.4 L250,399.4 L250,406.5 Z" fill="#f7941e"/>
<circle cx="342.7" cy="396.7" r="19.8" fill="#f7941e"/>
<rect x="363" y="375" width="133" height="44" fill="#f7941e"/>
</g>
<use href="#spool" transform="translate(0,253)"/>
<text class="th" x="384.3" y="404.1" textLength="73.6" lengthAdjust="spacingAndGlyphs" stroke="#fff" stroke-width="0.8">Thread</text>
<text class="th" x="463.5" y="404.1" textLength="14.6" lengthAdjust="spacingAndGlyphs" stroke="#fff" stroke-width="0.8">6</text>
</svg>
</body>
</html>
